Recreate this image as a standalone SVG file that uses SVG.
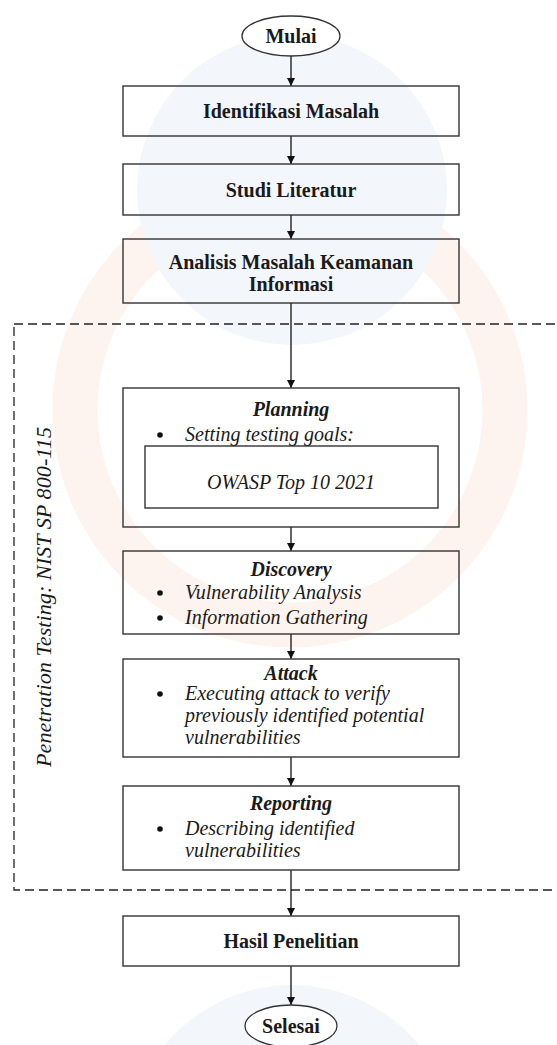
<svg xmlns="http://www.w3.org/2000/svg" width="557" height="1045" viewBox="0 0 557 1045">
<defs>
<marker id="arr" viewBox="0 0 10 10" refX="10" refY="5" markerWidth="8" markerHeight="9" markerUnits="userSpaceOnUse" orient="auto">
<path d="M0,0 L10,5 L0,10 z" fill="#111"/>
</marker>
<style>
.box{fill:none;stroke:#333;stroke-width:1.4}
.term{fill:#fff;stroke:#333;stroke-width:1.3}
.conn{stroke:#111;stroke-width:1.3;fill:none}
.tb{font-family:"Liberation Serif","Times New Roman",serif;font-weight:bold;font-size:20px;fill:#1a1a1a;text-anchor:middle}
.ti{font-family:"Liberation Serif","Times New Roman",serif;font-style:italic;font-size:20px;fill:#1a1a1a}
.tbi{font-family:"Liberation Serif","Times New Roman",serif;font-style:italic;font-weight:bold;font-size:20px;fill:#1a1a1a;text-anchor:middle}
.dot{fill:#111}
.dash{fill:none;stroke:#222;stroke-width:1.3;stroke-dasharray:9 5}
</style>
</defs>
<rect width="557" height="1045" fill="#fff"/>
<g id="watermark">
<circle cx="290" cy="410" r="215" fill="none" stroke="#fef4ef" stroke-width="45"/>
<circle cx="292" cy="190" r="155" fill="#f3f6fa"/>
<circle cx="292" cy="1150" r="165" fill="#f3f6fa"/>
</g>
<g id="group-pentest">
<rect class="dash" x="14" y="324" width="700" height="566"/>
<text class="ti" transform="translate(51,597) rotate(-90)" text-anchor="middle" font-size="22" textLength="340" lengthAdjust="spacingAndGlyphs">Penetration Testing: NIST SP 800-115</text>
</g>
<g id="connectors">
<line class="conn" x1="291" y1="56" x2="291" y2="86" marker-end="url(#arr)"/>
<line class="conn" x1="291" y1="136" x2="291" y2="164" marker-end="url(#arr)"/>
<line class="conn" x1="291" y1="215" x2="291" y2="239" marker-end="url(#arr)"/>
<line class="conn" x1="291" y1="303" x2="291" y2="388" marker-end="url(#arr)"/>
<line class="conn" x1="291" y1="527" x2="291" y2="551" marker-end="url(#arr)"/>
<line class="conn" x1="291" y1="634" x2="291" y2="659" marker-end="url(#arr)"/>
<line class="conn" x1="291" y1="757" x2="291" y2="786" marker-end="url(#arr)"/>
<line class="conn" x1="291" y1="870" x2="291" y2="916" marker-end="url(#arr)"/>
<line class="conn" x1="291" y1="966" x2="291" y2="1005" marker-end="url(#arr)"/>
</g>
<g id="mulai">
<ellipse class="term" cx="291" cy="36" rx="49" ry="20"/>
<text class="tb" x="291" y="43">Mulai</text>
</g>
<g id="identifikasi">
<rect class="box" x="123" y="86" width="336" height="50"/>
<text class="tb" x="291" y="118">Identifikasi Masalah</text>
</g>
<g id="studi">
<rect class="box" x="123" y="164" width="336" height="51"/>
<text class="tb" x="291" y="197">Studi Literatur</text>
</g>
<g id="analisis">
<rect class="box" x="123" y="239" width="336" height="64"/>
<text class="tb" x="291" y="269">Analisis Masalah Keamanan</text>
<text class="tb" x="291" y="291">Informasi</text>
</g>
<g id="planning">
<rect class="box" x="123" y="388" width="336" height="139"/>
<text class="tbi" x="291" y="416">Planning</text>
<circle class="dot" cx="160" cy="435" r="2.8"/>
<text class="ti" x="185" y="441">Setting testing goals:</text>
<rect class="box" x="145" y="446" width="293" height="62"/>
<text class="ti" x="291" y="489" text-anchor="middle">OWASP Top 10 2021</text>
</g>
<g id="discovery">
<rect class="box" x="123" y="551" width="336" height="83"/>
<text class="tbi" x="291" y="576">Discovery</text>
<circle class="dot" cx="160" cy="593" r="2.8"/>
<text class="ti" x="185" y="599">Vulnerability Analysis</text>
<circle class="dot" cx="160" cy="618" r="2.8"/>
<text class="ti" x="185" y="624">Information Gathering</text>
</g>
<g id="attack">
<rect class="box" x="123" y="659" width="336" height="98"/>
<text class="tbi" x="291" y="680">Attack</text>
<circle class="dot" cx="160" cy="694" r="2.8"/>
<text class="ti" x="185" y="700">Executing attack to verify</text>
<text class="ti" x="185" y="722">previously identified potential</text>
<text class="ti" x="185" y="744">vulnerabilities</text>
</g>
<g id="reporting">
<rect class="box" x="123" y="786" width="336" height="84"/>
<text class="tbi" x="291" y="810">Reporting</text>
<circle class="dot" cx="160" cy="829" r="2.8"/>
<text class="ti" x="185" y="835">Describing identified</text>
<text class="ti" x="185" y="857">vulnerabilities</text>
</g>
<g id="hasil">
<rect class="box" x="123" y="916" width="336" height="50"/>
<text class="tb" x="291" y="948">Hasil Penelitian</text>
</g>
<g id="selesai">
<ellipse class="term" cx="291" cy="1026" rx="46" ry="21"/>
<text class="tb" x="291" y="1033">Selesai</text>
</g>
</svg>
